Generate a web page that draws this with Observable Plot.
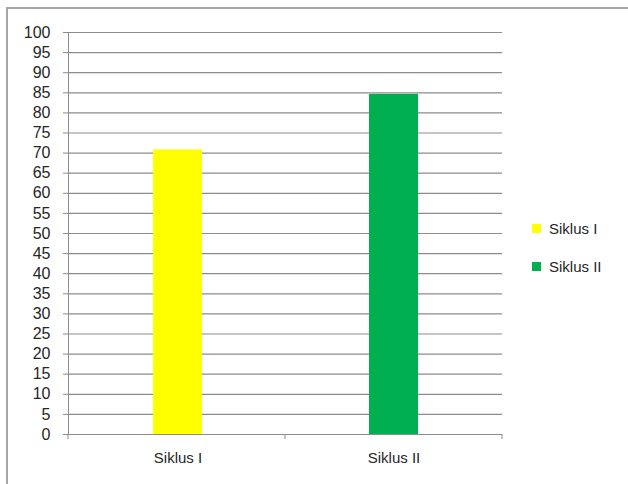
<!DOCTYPE html>
<html>
<head>
<meta charset="utf-8">
<script src="https://cdn.jsdelivr.net/npm/d3@7"></script>
<script src="https://cdn.jsdelivr.net/npm/@observablehq/plot@0.6"></script>
<style>
  html, body { margin: 0; padding: 0; background: #fff; }
  #wrap { position: relative; width: 628px; height: 484px; overflow: hidden; font-family: "Liberation Sans", Arial, sans-serif; }
  #frame { position: absolute; left: 6px; top: 7px; width: 640px; height: 500px; border-left: 2px solid #a6a6a6; border-top: 2px solid #a6a6a6; box-sizing: border-box; }
  #chart { position: absolute; left: 0; top: 0; }
  #legend { position: absolute; left: 532px; top: 209px; }
  .item { display: flex; align-items: center; height: 38px; font-size: 15px; color: #262626; line-height: 1; }
  .sw { width: 9px; height: 9px; margin-right: 8px; }
</style>
</head>
<body>
<div id="wrap">
  <div id="frame"></div>
  <div id="chart"></div>
  <div id="legend"></div>
</div>
<script>
const categories = ["Siklus I", "Siklus II"];
const values = [70.8, 84.6];
const colors = ["#ffff00", "#00b050"];
const yTicks = d3.range(0, 101, 5);

const data = categories.map((c, i) => ({category: c, value: values[i]}));

const axisGray = "#8c8c8c";

// tick marks at category boundaries of x axis
const boundaryTicks = (index, scales, values, dim) => {
  const g = d3.create("svg:g");
  const x0 = dim.marginLeft, x1 = dim.width - dim.marginRight;
  const y0 = dim.height - dim.marginBottom;
  const n = categories.length;
  for (let i = 0; i <= n; i++) {
    const x = x0 + (x1 - x0) * i / n;
    g.append("line").attr("x1", x).attr("x2", x).attr("y1", y0).attr("y2", y0 + 5)
      .attr("stroke", axisGray).attr("stroke-width", 1);
  }
  return g.node();
};

const chart = Plot.plot({
  width: 628,
  height: 484,
  marginLeft: 68,
  marginRight: 126,
  marginTop: 32,
  marginBottom: 50,
  style: {fontFamily: "Liberation Sans, Arial, sans-serif", fontSize: "15px", color: "#262626", background: "transparent"},
  x: {domain: categories, paddingInner: 0.775, paddingOuter: 0.39, label: null},
  y: {domain: [0, 100], label: null},
  color: {domain: categories, range: colors},
  marks: [
    Plot.ruleY(yTicks, {stroke: axisGray, strokeWidth: 1.2, strokeOpacity: 1}),
    Plot.barY(data, {x: "category", y: "value", fill: "category"}),
    Plot.frame({anchor: "left", stroke: axisGray, strokeOpacity: 1}),
    Plot.axisY({ticks: yTicks, tickSize: 5, tickPadding: 13, stroke: axisGray, fill: "#262626", fontSize: 16, tickFormat: d => String(d)}),
    Plot.axisX({tickSize: 0, tickPadding: 18, fill: "#262626", fontSize: 15}),
    boundaryTicks
  ]
});
document.getElementById("chart").appendChild(chart);

const legend = document.getElementById("legend");
categories.forEach((c, i) => {
  const item = document.createElement("div");
  item.className = "item";
  const sw = document.createElement("div");
  sw.className = "sw";
  sw.style.background = colors[i];
  const t = document.createElement("span");
  t.textContent = c;
  item.appendChild(sw);
  item.appendChild(t);
  legend.appendChild(item);
});
</script>
</body>
</html>
